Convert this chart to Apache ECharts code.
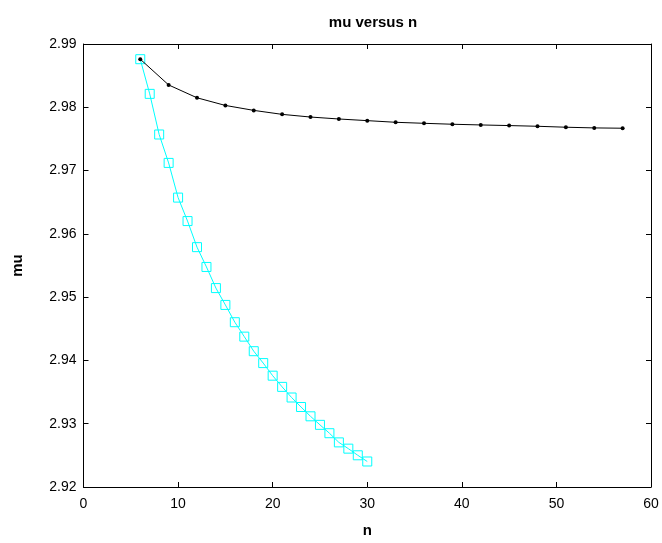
<!DOCTYPE html>
<html>
<head>
<meta charset="utf-8">
<script src="https://cdn.jsdelivr.net/npm/echarts@6/dist/echarts.min.js"></script>
<style>html,body{margin:0;padding:0;background:#fff;}#c{width:662px;height:543px;}</style>
</head>
<body>
<div id="c"></div>
<script>
var blackN = [6, 9, 12, 15, 18, 21, 24, 27, 30, 33, 36, 39, 42, 45, 48, 51, 54, 57];
var blackMu = [2.9876, 2.98353, 2.9815, 2.98029, 2.97951, 2.97888, 2.97846, 2.97815, 2.97789, 2.97763, 2.97747, 2.97732, 2.97721, 2.97711, 2.97700, 2.97685, 2.97674, 2.97669];
var cyanN = [6, 7, 8, 9, 10, 11, 12, 13, 14, 15, 16, 17, 18, 19, 20, 21, 22, 23, 24, 25, 26, 27, 28, 29, 30];
var cyanMu = [2.9876, 2.98212, 2.97570, 2.97121, 2.96573, 2.96202, 2.95790, 2.95477, 2.95143, 2.94877, 2.94604, 2.94376, 2.94146, 2.93958, 2.93759, 2.93582, 2.93414, 2.93264, 2.93117, 2.92982, 2.92850, 2.92705, 2.92606, 2.92501, 2.92403];
var xTicks = [0, 10, 20, 30, 40, 50, 60];
var yTicks = [2.92, 2.93, 2.94, 2.95, 2.96, 2.97, 2.98, 2.99];

function pairs(xs, ys) { return xs.map(function (x, i) { return [x, ys[i]]; }); }

var font = 'Liberation Sans, Arial, sans-serif';
var lineStyle = { color: '#000', width: 1 };
var chart = echarts.init(document.getElementById('c'), null, { renderer: 'canvas' });
chart.setOption({
  animation: false,
  backgroundColor: '#fff',
  title: {
    text: 'mu versus n', left: 368, top: 10, textAlign: 'center',
    textStyle: { fontFamily: font, fontSize: 15, fontWeight: 'bold', color: '#000' }
  },
  grid: { left: 83.5, right: 11, top: 44, bottom: 52, containLabel: false },
  xAxis: [{
    type: 'value', min: xTicks[0], max: xTicks[xTicks.length - 1], interval: 10,
    name: 'n', nameLocation: 'middle', nameGap: 36,
    nameTextStyle: { fontFamily: font, fontSize: 15, fontWeight: 'bold', color: '#000' },
    axisLine: { show: true, onZero: false, lineStyle: lineStyle },
    axisTick: { show: true, inside: true, length: 5, lineStyle: lineStyle },
    axisLabel: { fontFamily: font, fontSize: 14, color: '#000', margin: 10 },
    splitLine: { show: false }
  }, {
    type: 'value', position: 'top', min: xTicks[0], max: xTicks[xTicks.length - 1], interval: 10,
    axisLine: { show: true, onZero: false, lineStyle: lineStyle },
    axisTick: { show: true, inside: true, length: 5, lineStyle: lineStyle },
    axisLabel: { show: false }, splitLine: { show: false }
  }],
  yAxis: [{
    type: 'value', min: yTicks[0], max: yTicks[yTicks.length - 1], interval: 0.01,
    name: 'mu', nameLocation: 'middle', nameGap: 58, nameRotate: 90,
    nameTextStyle: { fontFamily: font, fontSize: 15, fontWeight: 'bold', color: '#000' },
    axisLine: { show: true, onZero: false, lineStyle: lineStyle },
    axisTick: { show: true, inside: true, length: 5, lineStyle: lineStyle },
    axisLabel: { fontFamily: font, fontSize: 14, color: '#000', margin: 7,
      formatter: function (v) { return v.toFixed(2); } },
    splitLine: { show: false }
  }, {
    type: 'value', position: 'right', min: yTicks[0], max: yTicks[yTicks.length - 1], interval: 0.01,
    axisLine: { show: true, onZero: false, lineStyle: lineStyle },
    axisTick: { show: true, inside: true, length: 5, lineStyle: lineStyle },
    axisLabel: { show: false }, splitLine: { show: false }
  }],
  series: [{
    type: 'line', data: pairs(cyanN, cyanMu),
    symbol: 'rect', symbolSize: 9, showAllSymbol: true,
    lineStyle: { color: '#00ffff', width: 1 },
    itemStyle: { color: 'rgba(0,0,0,0)', borderColor: '#00ffff', borderWidth: 1 },
    z: 2
  }, {
    type: 'line', data: pairs(blackN, blackMu),
    symbol: 'circle', symbolSize: 4, showAllSymbol: true,
    lineStyle: { color: '#000', width: 1 },
    itemStyle: { color: '#000' },
    z: 4
  }]
});
</script>
</body>
</html>
